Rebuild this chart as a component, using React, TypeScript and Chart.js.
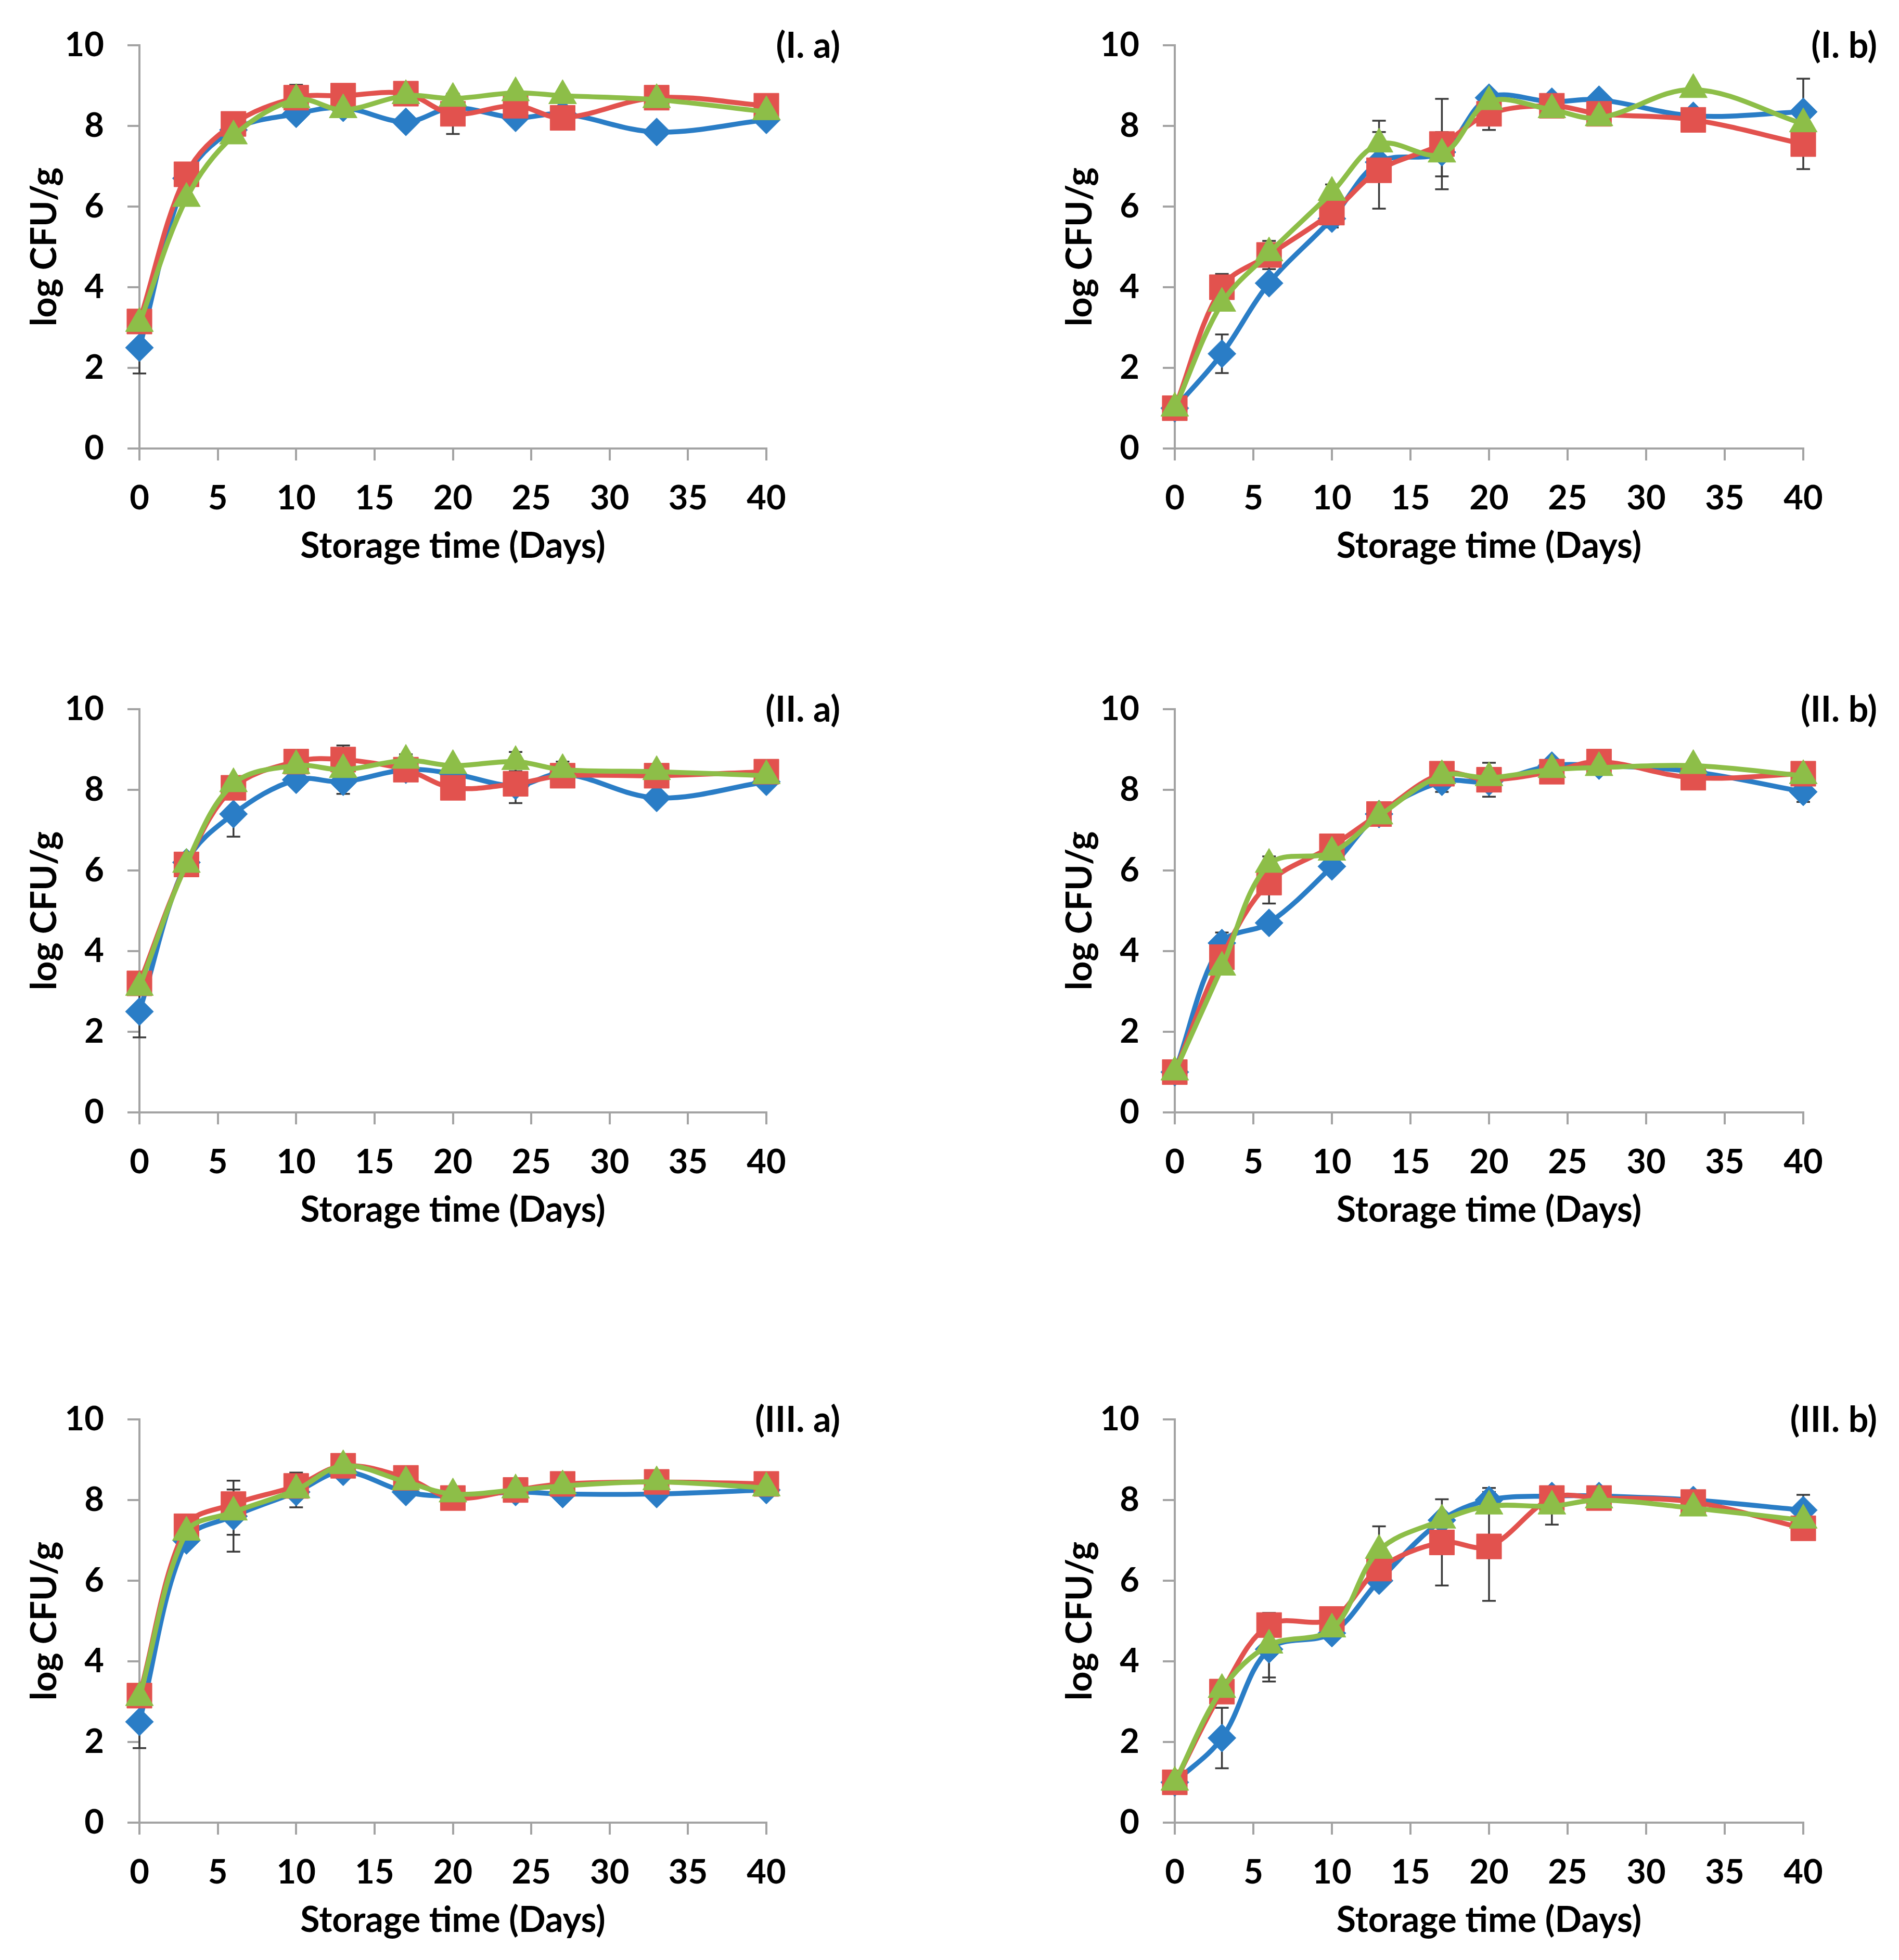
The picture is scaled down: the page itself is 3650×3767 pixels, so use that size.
import React, { useEffect, useRef } from 'react';
import { Chart, registerables } from 'chart.js';

Chart.register(...registerables);

// ---------- data ----------
const days = [0, 3, 6, 10, 13, 17, 20, 24, 27, 33, 40];
const panelLabels = ['(I. a)', '(I. b)', '(II. a)', '(II. b)', '(III. a)', '(III. b)'];
const xAxisTitle = 'Storage time (Days)';
const yAxisTitle = 'log CFU/g';

// (I. a)
const Ia_blue = [2.5, 6.7, 7.9, 8.3, 8.45, 8.1, 8.45, 8.2, 8.3, 7.85, 8.15];
const Ia_red = [3.15, 6.8, 8.05, 8.7, 8.75, 8.8, 8.3, 8.5, 8.2, 8.7, 8.5];
const Ia_green = [3.1, 6.2, 7.75, 8.65, 8.4, 8.75, 8.68, 8.82, 8.75, 8.65, 8.35];
const Ia_blueErr = [0.64, 0, 0, 0, 0, 0, 0, 0, 0, 0, 0];
const Ia_redErr = [0, 0, 0, 0.32, 0, 0, 0.5, 0, 0, 0, 0];
const Ia_greenErr = [0, 0, 0, 0, 0, 0, 0, 0, 0, 0, 0];

// (I. b)
const Ib_blue = [1.0, 2.35, 4.1, 5.7, 7.1, 7.35, 8.7, 8.6, 8.65, 8.25, 8.35];
const Ib_red = [1.0, 4.0, 4.8, 5.85, 6.9, 7.55, 8.3, 8.5, 8.3, 8.15, 7.55];
const Ib_green = [1.0, 3.6, 4.85, 6.35, 7.55, 7.3, 8.6, 8.4, 8.2, 8.9, 8.05];
const Ib_blueErr = [0, 0.48, 0, 0, 0, 0, 0, 0, 0, 0, 0.82];
const Ib_redErr = [0, 0.33, 0.35, 0.37, 0.95, 1.12, 0.4, 0, 0, 0, 0.62];
const Ib_greenErr = [0, 0, 0, 0.2, 0.58, 0.55, 0, 0, 0, 0, 0];

// (II. a)
const IIa_blue = [2.5, 6.2, 7.4, 8.25, 8.2, 8.5, 8.4, 8.1, 8.4, 7.8, 8.2];
const IIa_red = [3.2, 6.15, 8.05, 8.7, 8.75, 8.5, 8.05, 8.15, 8.35, 8.35, 8.45];
const IIa_green = [3.1, 6.15, 8.15, 8.6, 8.5, 8.73, 8.6, 8.7, 8.5, 8.45, 8.35];
const IIa_blueErr = [0.64, 0, 0.56, 0, 0.3, 0, 0, 0.43, 0, 0, 0];
const IIa_redErr = [0, 0, 0, 0, 0.35, 0, 0, 0, 0, 0, 0];
const IIa_greenErr = [0, 0, 0, 0, 0, 0.15, 0, 0.24, 0.2, 0, 0];

// (II. b)
const IIb_blue = [1.0, 4.2, 4.7, 6.1, 7.4, 8.2, 8.2, 8.6, 8.6, 8.45, 7.95];
const IIb_red = [1.0, 3.85, 5.7, 6.6, 7.4, 8.4, 8.25, 8.45, 8.7, 8.3, 8.4];
const IIb_green = [1.0, 3.6, 6.15, 6.45, 7.35, 8.35, 8.3, 8.5, 8.55, 8.6, 8.35];
const IIb_blueErr = [0, 0.26, 0, 0, 0, 0.25, 0, 0, 0, 0, 0.25];
const IIb_redErr = [0, 0, 0.52, 0, 0, 0, 0.42, 0, 0, 0, 0];
const IIb_greenErr = [0, 0, 0.2, 0, 0, 0, 0, 0, 0, 0, 0];

// (III. a)
const IIIa_blue = [2.5, 7.0, 7.6, 8.2, 8.7, 8.2, 8.1, 8.2, 8.15, 8.15, 8.25];
const IIIa_red = [3.15, 7.35, 7.9, 8.35, 8.85, 8.55, 8.05, 8.25, 8.4, 8.45, 8.4];
const IIIa_green = [3.1, 7.2, 7.7, 8.25, 8.85, 8.45, 8.15, 8.25, 8.35, 8.45, 8.3];
const IIIa_blueErr = [0.65, 0, 0.88, 0, 0, 0, 0, 0, 0, 0, 0];
const IIIa_redErr = [0, 0, 0, 0, 0, 0, 0, 0, 0, 0, 0];
const IIIa_greenErr = [0, 0, 0.56, 0.43, 0, 0, 0, 0, 0, 0, 0];

// (III. b)
const IIIb_blue = [1.0, 2.1, 4.3, 4.7, 6.0, 7.5, 8.0, 8.1, 8.1, 8.0, 7.75];
const IIIb_red = [1.0, 3.25, 4.9, 5.05, 6.3, 6.95, 6.85, 8.05, 8.05, 7.95, 7.3];
const IIIb_green = [1.0, 3.3, 4.4, 4.8, 6.75, 7.5, 7.85, 7.85, 8.0, 7.8, 7.5];
const IIIb_blueErr = [0, 0.75, 0.8, 0, 0, 0, 0.3, 0, 0, 0, 0.38];
const IIIb_redErr = [0, 0, 0, 0, 0, 1.07, 1.35, 0, 0, 0, 0];
const IIIb_greenErr = [0, 0, 0.8, 0, 0.6, 0, 0, 0.46, 0, 0, 0];

const panelSeries = [
  { blue: Ia_blue, red: Ia_red, green: Ia_green, blueErr: Ia_blueErr, redErr: Ia_redErr, greenErr: Ia_greenErr },
  { blue: Ib_blue, red: Ib_red, green: Ib_green, blueErr: Ib_blueErr, redErr: Ib_redErr, greenErr: Ib_greenErr },
  { blue: IIa_blue, red: IIa_red, green: IIa_green, blueErr: IIa_blueErr, redErr: IIa_redErr, greenErr: IIa_greenErr },
  { blue: IIb_blue, red: IIb_red, green: IIb_green, blueErr: IIb_blueErr, redErr: IIb_redErr, greenErr: IIb_greenErr },
  { blue: IIIa_blue, red: IIIa_red, green: IIIa_green, blueErr: IIIa_blueErr, redErr: IIIa_redErr, greenErr: IIIa_greenErr },
  { blue: IIIb_blue, red: IIIb_red, green: IIIb_green, blueErr: IIIb_blueErr, redErr: IIIb_redErr, greenErr: IIIb_greenErr },
];

// ---------- styling ----------
const BLUE = '#2A7DC6';
const RED = '#E2524E';
const GREEN = '#8DBE48';
const AXIS = '#A3A3A3';
const FONT_FAMILY = 'Lato, "Open Sans", "DejaVu Sans", sans-serif';
const TICK_SIZE = 65;
const TITLE_SIZE = 68;

const COL_LEFT = [0, 1990];
const COL_WIDTH = [1650, 1660];
const COL_PAD_RIGHT = [177, 184];
const ROW_TOP = [0, 1276, 2641];
const CANVAS_H = 1121;
const PAD_TOP = 87;
const Y_AXIS_W = 268;
const X_AXIS_H = 259;

const errorBarPlugin = {
  id: 'errorBars',
  beforeDatasetsDraw(chart: any) {
    const { ctx } = chart;
    const xs = chart.scales.x;
    const ys = chart.scales.y;
    ctx.save();
    ctx.strokeStyle = '#3A3A3A';
    ctx.lineWidth = 3.5;
    chart.data.datasets.forEach((ds: any) => {
      const errs: number[] = ds.errors || [];
      ds.data.forEach((p: any, i: number) => {
        const e = errs[i];
        if (!e) return;
        const px = xs.getPixelForValue(p.x);
        const top = ys.getPixelForValue(p.y + e);
        const bot = ys.getPixelForValue(p.y - e);
        const cap = 13;
        ctx.beginPath();
        ctx.moveTo(px, top);
        ctx.lineTo(px, bot);
        ctx.moveTo(px - cap, top);
        ctx.lineTo(px + cap, top);
        ctx.moveTo(px - cap, bot);
        ctx.lineTo(px + cap, bot);
        ctx.stroke();
      });
    });
    ctx.restore();
  },
};

function makeLabelPlugin(text: string) {
  return {
    id: 'panelLabel',
    afterDraw(chart: any) {
      const { ctx, chartArea } = chart;
      ctx.save();
      ctx.font = `bold ${TITLE_SIZE}px ${FONT_FAMILY}`;
      ctx.fillStyle = '#000';
      ctx.textAlign = 'right';
      ctx.textBaseline = 'middle';
      ctx.fillText(text, chartArea.right + 142, chartArea.top + 2);
      ctx.restore();
    },
  };
}

function Panel({ index }: { index: number }) {
  const ref = useRef<HTMLCanvasElement | null>(null);
  const col = index % 2;
  const row = Math.floor(index / 2);
  const width = COL_WIDTH[col];

  useEffect(() => {
    if (!ref.current) return;
    const s = panelSeries[index];
    const mk = (vals: number[]) => vals.map((v, i) => ({ x: days[i], y: v }));
    const tickFont = { family: FONT_FAMILY, size: TICK_SIZE, weight: 'bold' as const };
    const titleFont = { family: FONT_FAMILY, size: TITLE_SIZE, weight: 'bold' as const };
    const common = { borderWidth: 9.5, tension: 0.35, pointBorderWidth: 1, clip: false };
    const chart = new Chart(ref.current, {
      type: 'line',
      data: {
        datasets: [
          {
            ...common,
            label: 'blue',
            data: mk(s.blue),
            errors: s.blueErr,
            borderColor: BLUE,
            backgroundColor: BLUE,
            pointBackgroundColor: BLUE,
            pointBorderColor: BLUE,
            pointStyle: 'rectRot',
            pointRadius: 27,
            order: 3,
          } as any,
          {
            ...common,
            label: 'red',
            data: mk(s.red),
            errors: s.redErr,
            borderColor: RED,
            backgroundColor: RED,
            pointBackgroundColor: RED,
            pointBorderColor: RED,
            pointStyle: 'rect',
            pointRadius: 34,
            order: 2,
          } as any,
          {
            ...common,
            label: 'green',
            data: mk(s.green),
            errors: s.greenErr,
            borderColor: GREEN,
            backgroundColor: GREEN,
            pointBackgroundColor: GREEN,
            pointBorderColor: GREEN,
            pointStyle: 'triangle',
            pointRadius: 31,
            order: 1,
          } as any,
        ],
      },
      options: {
        animation: false,
        responsive: false,
        devicePixelRatio: 1,
        layout: { padding: { left: 0, top: PAD_TOP, right: COL_PAD_RIGHT[col], bottom: 0 } },
        plugins: { legend: { display: false }, tooltip: { enabled: false } },
        scales: {
          x: {
            type: 'linear',
            min: 0,
            max: 40,
            afterFit: (sc: any) => { sc.height = X_AXIS_H; },
            ticks: { stepSize: 5, color: '#000', font: tickFont, padding: 34, maxRotation: 0 },
            grid: { drawOnChartArea: false, drawTicks: true, tickLength: 23, color: AXIS, lineWidth: 4 },
            border: { color: AXIS, width: 4 },
            title: { display: true, text: xAxisTitle, color: '#000', font: titleFont, padding: { top: 0, bottom: 30 } },
          },
          y: {
            type: 'linear',
            min: 0,
            max: 10,
            afterFit: (sc: any) => { sc.width = Y_AXIS_W; },
            ticks: { stepSize: 2, color: '#000', font: tickFont, padding: 45 },
            grid: { drawOnChartArea: false, drawTicks: true, tickLength: 23, color: AXIS, lineWidth: 4 },
            border: { color: AXIS, width: 4 },
            title: { display: true, text: yAxisTitle, color: '#000', font: titleFont, padding: { top: 45, bottom: 0 } },
          },
        },
      } as any,
      plugins: [errorBarPlugin, makeLabelPlugin(panelLabels[index])],
    });
    return () => chart.destroy();
  }, [index]);

  return (
    <canvas
      ref={ref}
      width={width}
      height={CANVAS_H}
      style={{ position: 'absolute', left: COL_LEFT[col], top: ROW_TOP[row], width, height: CANVAS_H }}
    />
  );
}

export default function App() {
  return (
    <div style={{ position: 'absolute', left: 0, top: 0, width: 3650, height: 3767, background: '#fff' }}>
      {panelLabels.map((_, i) => (
        <Panel key={i} index={i} />
      ))}
    </div>
  );
}
